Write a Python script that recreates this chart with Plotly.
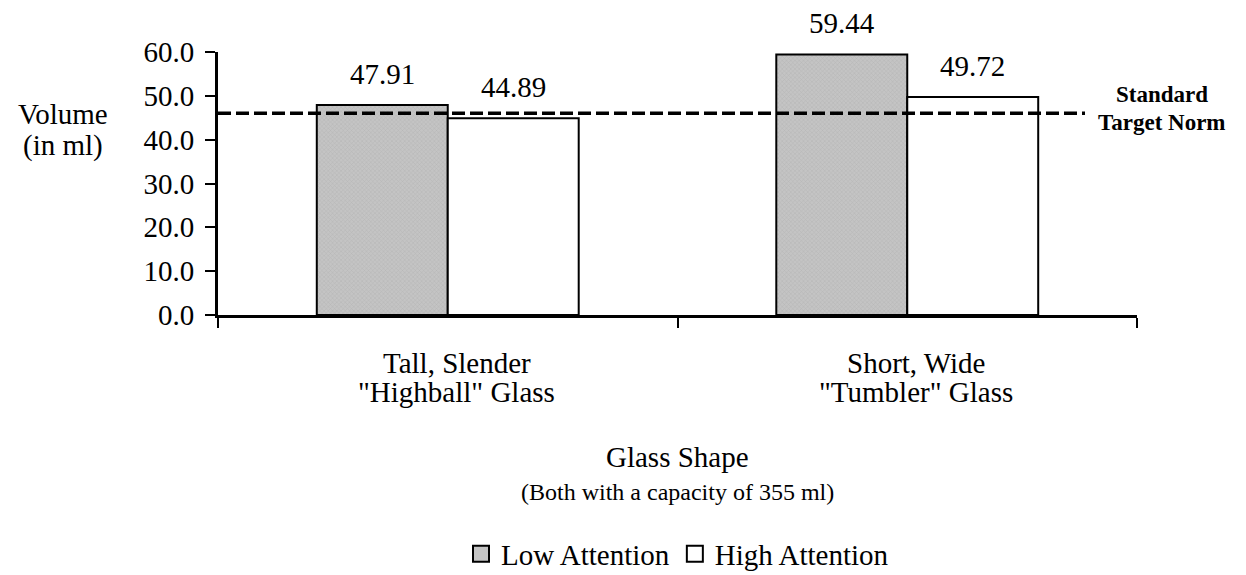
import plotly.graph_objects as go

categories = ['Tall, Slender<br>"Highball" Glass', 'Short, Wide<br>"Tumbler" Glass']
low_attention = [47.91, 59.44]
high_attention = [44.89, 49.72]
target_norm = 46.0
y_ticks = [0, 10, 20, 30, 40, 50, 60]

FONT = "Liberation Serif, Times New Roman, serif"
BW = 0.285
FS = 29
LOW_COLOR = "#c4c4c4"

# plot area in screen px (page body adds 8px offset)
PL, PT, PW, PH = 218, 52, 919, 263


def py(screen_y):
    return (PT + PH - screen_y) / PH


def px(screen_x):
    return (screen_x - PL) / PW


xs = list(range(len(categories)))
fig = go.Figure()
fig.add_trace(go.Bar(
    name="Low Attention", x=xs, y=low_attention, width=BW, offset=-BW,
    showlegend=False,
    marker=dict(color=LOW_COLOR, line=dict(color="black", width=2),
                pattern=dict(shape="x", size=3, fgcolor="#a4a4a4", solidity=0.3)),
))
fig.add_trace(go.Bar(
    name="High Attention", x=xs, y=high_attention, width=BW, offset=0,
    showlegend=False,
    marker=dict(color="white", line=dict(color="black", width=2)),
))
# legend entries
for name, col in [("Low Attention", LOW_COLOR), ("High Attention", "white")]:
    fig.add_trace(go.Scatter(
        name=name, x=[None], y=[None], mode="markers",
        marker=dict(symbol="square", size=20, color=col,
                    line=dict(color="black", width=2)),
    ))

# value labels
for i, (lo, hi) in enumerate(zip(low_attention, high_attention)):
    fig.add_annotation(x=i - BW / 2, y=lo, text=f"{lo:.2f}", showarrow=False,
                       yshift=31, font=dict(size=FS, color="black"))
    fig.add_annotation(x=i + BW / 2, y=hi, text=f"{hi:.2f}", showarrow=False,
                       yshift=31, font=dict(size=FS, color="black"))

# category labels (one annotation per line)
line_y = [363, 392]
for i, cat in enumerate(categories):
    for j, line in enumerate(cat.split("<br>")):
        fig.add_annotation(x=i + 0.02, xref="x", yref="paper", y=py(line_y[j]),
                           text=line, showarrow=False, yanchor="middle",
                           xanchor="center", font=dict(size=FS, color="black"))

# target norm line
fig.add_shape(type="line", xref="paper", yref="y", x0=0, x1=px(1085),
              y0=target_norm, y1=target_norm,
              line=dict(color="black", width=3.5, dash="13px,5px"))
for txt, yy in [("<b>Standard</b>", 95), ("<b>Target Norm</b>", 122)]:
    fig.add_annotation(xref="paper", yref="paper", x=px(1162), y=py(yy),
                       text=txt, showarrow=False, yanchor="middle", xanchor="center",
                       font=dict(size=23, color="black"))

# y axis title
for txt, yy in [("Volume", 114), ("(in ml)", 145)]:
    fig.add_annotation(xref="paper", yref="paper", x=px(63), y=py(yy),
                       text=txt, showarrow=False, yanchor="middle", xanchor="center",
                       font=dict(size=FS, color="black"))

# x axis title
fig.add_annotation(xref="paper", yref="paper", x=0.5, y=py(457),
                   text="Glass Shape", showarrow=False, yanchor="middle",
                   xanchor="center", font=dict(size=FS, color="black"))
fig.add_annotation(xref="paper", yref="paper", x=0.5, y=py(492),
                   text="(Both with a capacity of 355 ml)", showarrow=False,
                   yanchor="middle", xanchor="center", font=dict(size=24, color="black"))

fig.update_layout(
    width=1238, height=567,
    margin=dict(l=PL - 8, r=1246 - PL - PW, t=PT - 8, b=575 - PT - PH, autoexpand=False),
    paper_bgcolor="white", plot_bgcolor="white",
    font=dict(family=FONT, size=FS, color="black"),
    barmode="overlay",
    showlegend=True,
    legend=dict(orientation="h", x=0.5, xanchor="center", y=py(554), yanchor="middle",
                font=dict(size=FS), itemwidth=30, tracegroupgap=0),
    xaxis=dict(range=[-0.5, 1.5], tickvals=[-0.5, 0.5, 1.5], showticklabels=False,
               showline=True, linecolor="black", linewidth=3, ticks="outside",
               ticklen=10, tickwidth=2, tickcolor="black", showgrid=False,
               zeroline=False),
    yaxis=dict(range=[0, 60], tickvals=y_ticks, tickformat=".1f",
               showline=True, linecolor="black", linewidth=3, ticks="outside",
               ticklen=10, tickwidth=2, tickcolor="black", showgrid=False,
               zeroline=False, tickfont=dict(size=FS), ticklabelstandoff=5),
)

fig.write_html("out.html")
